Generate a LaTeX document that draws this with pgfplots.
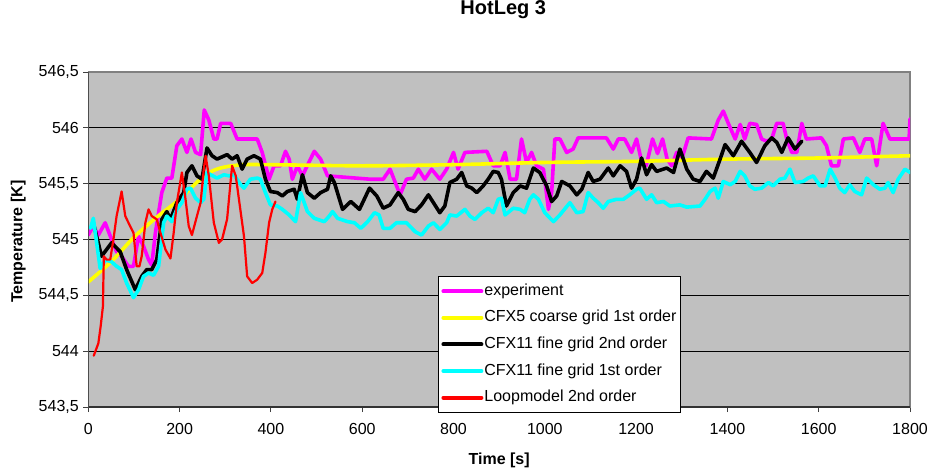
\documentclass[border=0pt]{standalone}
\usepackage{fontspec}
\setmainfont{Liberation Sans}
\usepackage{pgfplots}
\pgfplotsset{compat=1.18}
\definecolor{bg}{HTML}{C0C0C0}
\definecolor{framec}{HTML}{808080}
\definecolor{cmag}{HTML}{FF00FF}
\definecolor{cyel}{HTML}{FFFF00}
\definecolor{ccyan}{HTML}{00FFFF}
\definecolor{cred}{HTML}{FF0000}
\begin{document}
\begin{tikzpicture}
\useasboundingbox (0,0) rectangle (929pt,472pt);
\begin{axis}[
  at={(88.3pt,65pt)}, anchor=south west,
  width=821.7pt, height=335pt, scale only axis,
  xmin=0, xmax=1800, ymin=543.5, ymax=546.5,
  xtick={0,200,400,600,800,1000,1200,1400,1600,1800},
  ytick={543.5,544,544.5,545,545.5,546,546.5},
  /pgf/number format/.cd, use comma, fixed, precision=1, 1000 sep={}, assume math mode=true,
  /pgfplots/.cd,
  ticklabel style={font=\fontsize{16}{19}\selectfont},
  yticklabel style={xshift=-1pt},
  xticklabel style={yshift=-8pt},
  axis background/.style={fill=bg},
  axis line style={draw=framec, line width=1.2pt},
  ymajorgrids, major grid style={black, line width=0.9pt},
  tick align=outside, tick pos=left, major tick length=5pt,
  tick style={black!75, line width=0.9pt},
  title={HotLeg 3},
  title style={font=\fontsize{20}{24}\selectfont\bfseries, at={(axis description cs:0.505,1.167)}, anchor=center},
  xlabel={Time [s]},
  xlabel style={font=\fontsize{16}{19}\selectfont\bfseries, at={(axis description cs:0.5,-0.158)}, anchor=center},
  ylabel={Temperature [K]},
  ylabel style={font=\fontsize{16}{19}\selectfont\bfseries, at={(axis description cs:-0.0853,0.4934)}, anchor=center},
  legend cell align=left,
  legend image code/.code={\draw[#1, line width=4pt] (0pt,0pt) -- (38pt,0pt);},
  legend style={at={(axis description cs:0.4256,0.391)}, anchor=north west,
    draw=black, fill=white, line width=0.8pt,
    font=\fontsize{16}{19}\selectfont,
    inner xsep=3pt, inner ysep=1.5pt, row sep=0pt,
    nodes={inner ysep=5.3pt, inner xsep=1pt, text height=12pt, text depth=4pt}},
  every axis plot/.append style={line join=round, line cap=round},
]
\addplot[cmag, line width=3.6pt] coordinates {
(0,545.04)(11,545.12)(22,545.04)(37,545.15)(51,545.0)(62,544.89)(73,544.85)(88,544.76)(99,544.76)(110,545.03)
(121,544.94)(132,544.82)(139,544.77)(147,545.06)(161,545.42)(172,545.55)(183,545.55)(194,545.84)(205,545.9)(216,545.78)
(225,545.9)(235,545.78)(246,545.76)(254,546.16)(264,546.07)(275,545.9)(282,545.9)(290,546.04)(312,546.04)(326,545.9)
(370,545.9)(381,545.78)(396,545.54)(407,545.66)(421,545.66)(432,545.79)(440,545.72)(447,545.54)(458,545.66)(469,545.57)
(495,545.79)(509,545.72)(524,545.57)(617,545.54)(646,545.54)(661,545.63)(683,545.40)(697,545.54)(712,545.55)(723,545.63)
(737,545.54)(752,545.63)(770,545.54)(785,545.63)(800,545.78)(810,545.63)(825,545.78)(873,545.79)(887,545.66)(902,545.66)
(913,545.78)(924,545.54)(938,545.54)(949,545.9)(960,545.69)(971,545.78)(982,545.66)(997,545.63)(1008,545.27)(1015,545.42)
(1022,545.9)(1033,545.9)(1048,545.78)(1062,545.81)(1073,545.91)(1135,545.91)(1150,545.81)(1161,545.9)(1175,545.9)(1190,545.78)
(1201,545.9)(1212,545.7)(1222,545.66)(1236,545.9)(1247,545.77)(1258,545.9)(1268,545.72)(1278,545.66)(1289,545.78)(1300,545.72)
(1314,545.91)(1365,545.9)(1380,546.07)(1391,546.15)(1402,546.04)(1417,545.9)(1428,546.03)(1438,545.9)(1449,546.04)(1464,546.03)
(1475,545.9)(1486,545.88)(1497,545.9)(1508,546.04)(1522,546.04)(1530,545.9)(1541,545.78)(1552,545.78)(1563,546.04)(1573,545.9)
(1606,545.91)(1617,545.84)(1628,545.66)(1643,545.66)(1654,545.9)(1676,545.91)(1690,545.78)(1701,545.9)(1716,545.9)(1727,545.66)
(1741,546.04)(1756,545.9)(1798,545.9)(1800,546.08)
};
\addlegendentry{experiment}
\addplot[cyel, line width=3.6pt, smooth] coordinates {
(0,544.62)(50,544.8)(100,545.02)(150,545.2)(200,545.36)(240,545.52)(270,545.61)(300,545.65)(340,545.67)(400,545.67)
(600,545.66)(800,545.67)(1000,545.69)(1200,545.7)(1400,545.72)(1600,545.73)(1800,545.75)
};
\addlegendentry{CFX5 coarse grid 1st order}
\addplot[black, line width=3.6pt] coordinates {
(11,545.15)(29,544.85)(51,544.97)(70,544.89)(84,544.73)(103,544.55)(117,544.67)(128,544.73)(139,544.73)(150,544.82)
(161,545.18)(172,545.25)(180,545.18)(194,545.33)(209,545.42)(216,545.6)(227,545.66)(238,545.57)(249,545.54)(260,545.82)
(271,545.75)(282,545.72)(304,545.76)(315,545.72)(326,545.75)(337,545.63)(348,545.72)(363,545.75)(377,545.72)(388,545.54)
(399,545.43)(414,545.42)(425,545.39)(436,545.43)(451,545.45)(458,545.36)(469,545.58)(480,545.42)(495,545.37)(509,545.42)
(524,545.45)(531,545.57)(539,545.51)(557,545.27)(575,545.34)(594,545.27)(616,545.46)(632,545.39)(646,545.28)(661,545.31)
(679,545.42)(690,545.36)(701,545.27)(716,545.25)(730,545.31)(745,545.4)(756,545.33)(770,545.24)(781,545.3)(792,545.51)
(807,545.54)(818,545.6)(829,545.48)(840,545.46)(851,545.42)(865,545.48)(876,545.54)(887,545.61)(898,545.6)(905,545.54)
(916,545.3)(931,545.42)(946,545.48)(960,545.46)(975,545.64)(989,545.6)(1004,545.48)(1015,545.34)(1026,545.39)(1037,545.52)
(1055,545.48)(1070,545.4)(1081,545.45)(1095,545.6)(1106,545.52)(1121,545.54)(1139,545.64)(1150,545.57)(1165,545.66)(1179,545.61)
(1190,545.46)(1201,545.54)(1212,545.73)(1223,545.58)(1234,545.67)(1245,545.61)(1267,545.64)(1282,545.6)(1296,545.81)(1311,545.63)
(1325,545.54)(1340,545.52)(1354,545.61)(1369,545.55)(1384,545.72)(1395,545.85)(1413,545.75)(1431,545.88)(1449,545.78)(1464,545.69)
(1482,545.84)(1497,545.91)(1508,545.87)(1519,545.78)(1533,545.91)(1548,545.81)(1563,545.88)
};
\addlegendentry{CFX11 fine grid 2nd order}
\addplot[ccyan, line width=3.6pt] coordinates {
(5,545.1)(11,545.19)(26,544.74)(37,544.82)(51,544.8)(62,544.76)(73,544.73)(84,544.61)(99,544.48)(110,544.55)
(121,544.67)(132,544.7)(143,544.68)(154,544.76)(165,545.15)(172,545.21)(183,545.16)(194,545.27)(205,545.33)(216,545.45)
(224,545.46)(235,545.37)(246,545.33)(253,545.36)(260,545.6)(268,545.58)(282,545.55)(297,545.58)(308,545.57)(319,545.58)
(334,545.49)(341,545.46)(355,545.54)(370,545.55)(377,545.54)(388,545.42)(399,545.31)(414,545.3)(425,545.27)(440,545.22)
(454,545.16)(465,545.42)(480,545.25)(495,545.19)(517,545.16)(528,545.21)(535,545.25)(546,545.19)(568,545.16)(583,545.15)
(597,545.1)(612,545.16)(627,545.24)(637,545.22)(646,545.1)(661,545.1)(675,545.15)(697,545.15)(716,545.07)(730,545.04)
(745,545.12)(756,545.15)(770,545.09)(785,545.15)(792,545.22)(807,545.21)(825,545.27)(836,545.21)(847,545.18)(862,545.24)
(876,545.28)(887,545.24)(898,545.36)(905,545.37)(913,545.22)(931,545.28)(946,545.27)(956,545.24)(967,545.36)(975,545.4)
(986,545.36)(1000,545.24)(1019,545.16)(1033,545.22)(1055,545.33)(1070,545.24)(1084,545.25)(1095,545.42)(1106,545.37)(1117,545.33)
(1128,545.28)(1139,545.34)(1157,545.36)(1172,545.36)(1186,545.4)(1201,545.45)(1208,545.46)(1223,545.36)(1234,545.4)(1245,545.33)
(1260,545.34)(1274,545.3)(1296,545.31)(1311,545.29)(1340,545.3)(1351,545.36)(1362,545.43)(1373,545.46)(1380,545.37)(1391,545.52)
(1406,545.49)(1417,545.52)(1428,545.61)(1438,545.57)(1449,545.48)(1460,545.45)(1475,545.46)(1490,545.51)(1500,545.48)(1515,545.54)
(1526,545.55)(1537,545.63)(1548,545.51)(1566,545.52)(1577,545.55)(1588,545.57)(1603,545.48)(1614,545.48)(1625,545.63)(1636,545.55)
(1646,545.46)(1657,545.42)(1668,545.49)(1679,545.43)(1694,545.4)(1705,545.55)(1720,545.49)(1734,545.45)(1745,545.46)(1752,545.51)
(1763,545.42)(1774,545.54)(1789,545.63)(1800,545.6)
};
\addlegendentry{CFX11 fine grid 1st order}
\addplot[cred, line width=2.2pt] coordinates {
(12,543.96)(22,544.07)(27,544.22)(32,544.4)(34,544.85)(40,544.82)(48,544.82)(55,545.0)(62,545.21)(73,545.43)
(81,545.21)(88,545.15)(99,545.06)(106,544.76)(112,544.76)(117,544.85)(125,545.15)(132,545.27)(139,545.21)(150,545.18)
(158,545.06)(169,544.91)(180,544.83)(187,545.06)(194,545.33)(205,545.6)(213,545.36)(220,545.12)(227,545.04)(238,545.21)
(246,545.33)(253,545.63)(257,545.75)(264,545.57)(275,545.15)(286,544.97)(293,545.0)(304,545.18)(315,545.66)(323,545.57)
(330,545.36)(341,545.03)(348,544.67)(359,544.61)(370,544.64)(381,544.7)(388,544.88)(396,545.15)(403,545.27)(410,545.34)
};
\addlegendentry{Loopmodel 2nd order}
\draw[black!80, line width=1.2pt] (rel axis cs:0,1) -- (rel axis cs:0,0) -- (rel axis cs:1,0);
\end{axis}
\end{tikzpicture}
\end{document}
